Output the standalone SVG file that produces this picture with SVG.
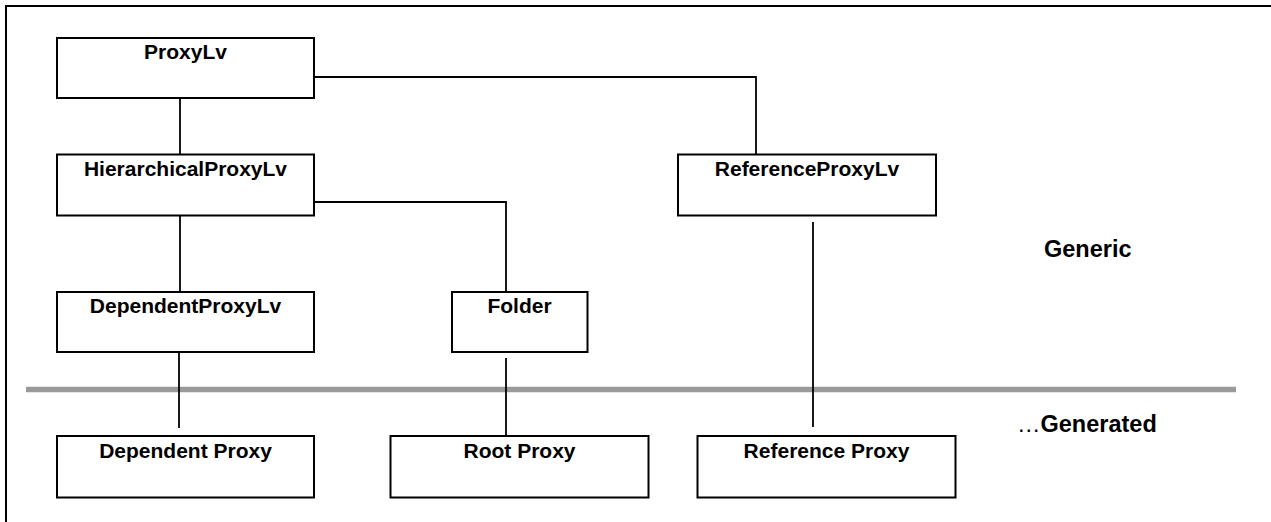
<svg xmlns="http://www.w3.org/2000/svg" width="1271" height="522" viewBox="0 0 1271 522">
  <style>
    .box { fill: #ffffff; stroke: #000000; stroke-width: 2; }
    .lbl { font-family: "Liberation Sans", Arial, sans-serif; font-weight: bold; font-size: 21px; fill: #000000; text-anchor: middle; }
    .zone { font-family: "Liberation Sans", Arial, sans-serif; font-weight: bold; font-size: 23.5px; fill: #000000; }
    .link { fill: none; stroke: #000000; stroke-width: 1.8; }
  </style>

  <rect x="0" y="0" width="1271" height="522" fill="#ffffff"/>
  <!-- outer frame (runs off the right and bottom edges) -->
  <rect x="6" y="6" width="1300" height="600" fill="none" stroke="#000000" stroke-width="2"/>

  <!-- divider between generic and generated layers -->
  <line x1="26" y1="389.5" x2="1236" y2="389.5" stroke="#9a9a9a" stroke-width="5.5"/>

  <g id="connectors">
    <path class="link" d="M180 96 V154"/>
    <path class="link" d="M314 77 H756 V155"/>
    <path class="link" d="M180 213 V292"/>
    <path class="link" d="M314 202 H506 V293"/>
    <path class="link" d="M179 351 V428"/>
    <path class="link" d="M506 358 V436"/>
    <path class="link" d="M813 222 V427"/>
  </g>

  <g id="proxy-lv">
    <rect class="box" x="57" y="38" width="257" height="60"/>
    <text class="lbl" x="185.5" y="59">ProxyLv</text>
  </g>
  <g id="hierarchical-proxy-lv">
    <rect class="box" x="57" y="154.5" width="257" height="61"/>
    <text class="lbl" x="185.5" y="176">HierarchicalProxyLv</text>
  </g>
  <g id="reference-proxy-lv">
    <rect class="box" x="678" y="154.5" width="258" height="61"/>
    <text class="lbl" x="807" y="175.5">ReferenceProxyLv</text>
  </g>
  <g id="dependent-proxy-lv">
    <rect class="box" x="57" y="292" width="257" height="60"/>
    <text class="lbl" x="185.5" y="313">DependentProxyLv</text>
  </g>
  <g id="folder">
    <rect class="box" x="452" y="292" width="135.5" height="60"/>
    <text class="lbl" x="519.5" y="313">Folder</text>
  </g>
  <g id="dependent-proxy">
    <rect class="box" x="57" y="436" width="257" height="61.5"/>
    <text class="lbl" x="185.5" y="458">Dependent Proxy</text>
  </g>
  <g id="root-proxy">
    <rect class="box" x="390.5" y="436" width="258" height="61.5"/>
    <text class="lbl" x="519.5" y="458">Root Proxy</text>
  </g>
  <g id="reference-proxy">
    <rect class="box" x="697.5" y="436" width="258" height="61.5"/>
    <text class="lbl" x="826.5" y="458">Reference Proxy</text>
  </g>

  <g id="layer-labels">
    <text class="zone" x="1044" y="257">Generic</text>
    <text class="zone" x="1017" y="432"><tspan font-weight="normal">…</tspan>Generated</text>
  </g>
</svg>
